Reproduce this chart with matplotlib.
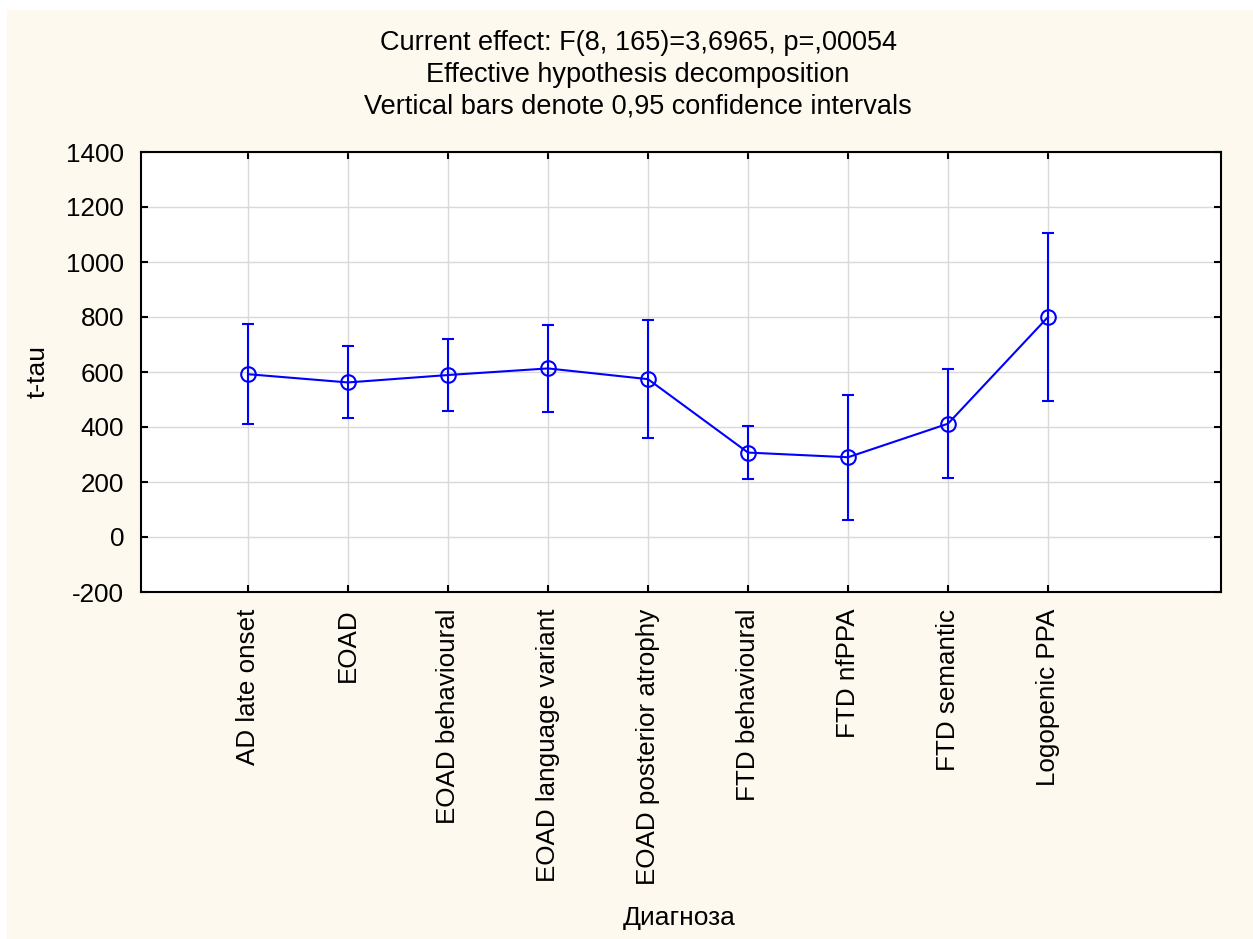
import matplotlib.pyplot as plt
from matplotlib.patches import Rectangle

# Means and 0.95 confidence limits
categories = ['AD late onset', 'EOAD', 'EOAD behavioural', 'EOAD language variant',
              'EOAD posterior atrophy', 'FTD behavioural', 'FTD nfPPA', 'FTD semantic',
              'Logopenic PPA']
means = [592, 562, 589, 613, 574, 307, 290, 412, 800]
upper = [776, 694, 720, 771, 789, 404, 516, 610, 1104]
lower = [410, 432, 458, 456, 359, 211, 62, 214, 496]
yticks = [-200, 0, 200, 400, 600, 800, 1000, 1200, 1400]

title_lines = ['Current effect: F(8, 165)=3,6965, p=,00054',
               'Effective hypothesis decomposition',
               'Vertical bars denote 0,95 confidence intervals']

plt.rcParams['font.family'] = ['Liberation Sans', 'DejaVu Sans']
plt.rcParams['axes.unicode_minus'] = False

W, H = 1253, 939
fig = plt.figure(figsize=(W / 100, H / 100), dpi=100, facecolor='white')
# cream panel behind everything
fig.patches.append(Rectangle((7 / W, 0), 1 - 7 / W, 1 - 10 / H, transform=fig.transFigure,
                             facecolor='#FDF9EE', edgecolor='none', zorder=-1))

ax = fig.add_axes([141 / W, 1 - 592 / H, (1221 - 141) / W, (592 - 152) / H])
ax.set_facecolor('white')

x = list(range(len(categories)))
yerr = [[m - lo for m, lo in zip(means, lower)], [u - m for m, u in zip(means, upper)]]
# open circles; the line and the error bar form the cross inside each one
ax.errorbar(x, means, yerr=yerr, color='#0000FF', lw=1.5, marker='o', ms=10.5,
            mfc='none', mec='#0000FF', mew=1.5, capsize=4, capthick=1.5,
            elinewidth=1.5, zorder=3)

ax.set_xlim(-1.07, 9.73)
ax.set_ylim(-200, 1400)
ax.set_yticks(yticks)
ax.set_xticks(x)
ax.set_xticklabels(categories, rotation=90, fontsize=18.7)
ax.tick_params(axis='y', labelsize=18.7, direction='in', length=5, width=1.5,
               right=True, pad=12)
ax.tick_params(axis='x', direction='in', length=5, width=1.5, top=True, pad=12)
ax.grid(True, color='#D9D9D9', lw=1.0, zorder=0)
for s in ax.spines.values():
    s.set_linewidth(1.5)

ax.set_ylabel('t-tau', fontsize=19)
ax.set_xlabel('Диагноза', fontsize=19)
ax.xaxis.set_label_coords((679 - 141) / 1080, -(906 - 592) / 440)
ax.yaxis.set_label_coords(-(141 - 50) / 1080, (592 - 372) / 440)

for i, line in enumerate(title_lines):
    fig.text(638 / W, 1 - (43.5 + 31.5 * i) / H, line, ha='center', va='center', fontsize=19.5)

fig.savefig('out.png', dpi=100, facecolor='white')
